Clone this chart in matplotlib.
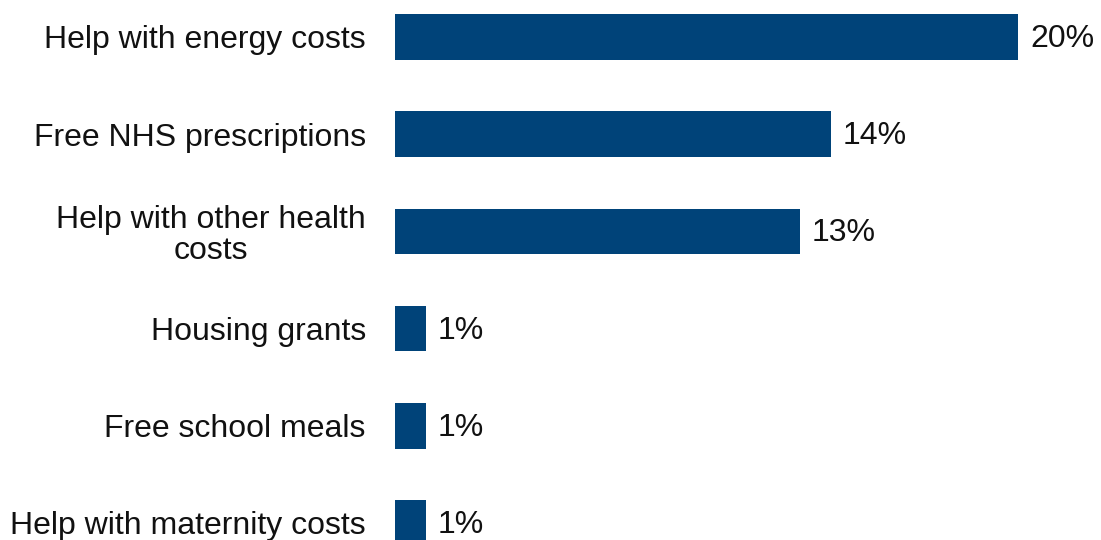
import matplotlib.pyplot as plt
import numpy as np

plt.rcParams['font.family'] = ['Liberation Sans', 'DejaVu Sans']

categories = ['Help with energy costs', 'Free NHS prescriptions', 'Help with other health\ncosts',
              'Housing grants', 'Free school meals', 'Help with maternity costs']
values = [20, 14, 13, 1, 1, 1]

fig = plt.figure(figsize=(11.01, 5.4), dpi=100)
ax = fig.add_axes([395 / 1101, 0, 706 / 1101, 1])

y = np.arange(len(categories))
ax.barh(y, values, height=0.47, color='#004379')
for yi, v in zip(y, values):
    ax.text(v + 0.38, yi + 0.02, f'{v}%', va='center', ha='left', fontsize=23, color='#111111')

ax.set_xlim(0, 22.66)
ax.set_ylim(5.175, -0.38)
ax.set_yticks(y)
ax.set_yticklabels(categories, fontsize=23, color='#111111', linespacing=1.05,
                   multialignment='center')
ax.tick_params(axis='y', length=0, pad=21)
ax.set_xticks([])
for s in ax.spines.values():
    s.set_visible(False)

fig.savefig('out.png', dpi=100)
